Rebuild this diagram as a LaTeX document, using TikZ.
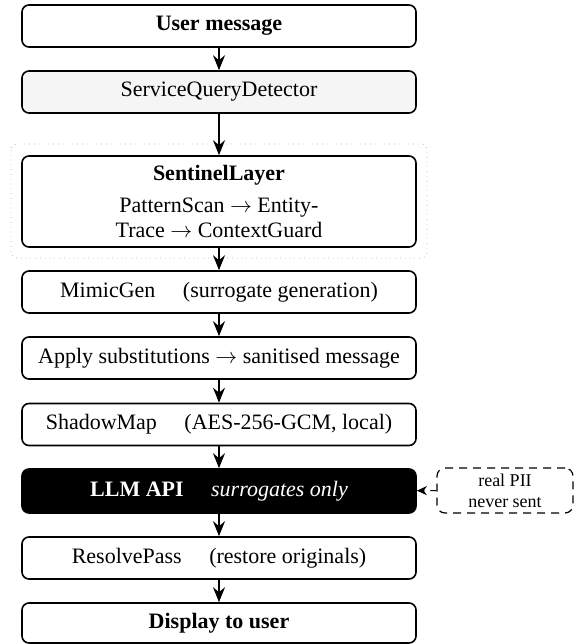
\documentclass[tikz,border=0pt]{standalone}
\usepackage{fontspec}
\setmainfont{Liberation Serif}
\usetikzlibrary{arrows.meta,shapes}

\begin{document}
\begin{tikzpicture}[x=.5pt, y=-.5pt]
		\tikzstyle{stage} = [draw, thick, rounded corners=3.5pt, minimum width=197pt, minimum height=21pt, align=center, inner sep=2pt, font=\fontsize{11}{12.5}\selectfont]
		\tikzstyle{note} = [draw, semithick, dash pattern=on 4pt off 3pt, rounded corners=4pt, minimum width=68pt, minimum height=22.5pt, align=center, inner sep=1pt, font=\fontsize{9}{10.5}\selectfont]
		\useasboundingbox (0, 0) rectangle (575, 644);
		% sentinel frame
		\draw [dotted, gray!60, rounded corners=3pt] (11, 144) rectangle (427, 258);
		\node[stage] (user) at (219, 26) {\textbf{User message}};
		\node[stage, fill=gray!8] (sqd) at (219, 92) {ServiceQueryDetector};
		\node[stage, minimum height=45.5pt] (sentinel) at (219, 201.5) {\textbf{SentinelLayer}\\[3.5pt]PatternScan $\rightarrow$ Entity-\\Trace $\rightarrow$ ContextGuard};
		\node[stage] (mimic) at (219, 292) {MimicGen \quad (surrogate generation)};
		\node[stage] (apply) at (219, 358) {Apply substitutions $\rightarrow$ sanitised message};
		\node[stage] (shadow) at (219, 424.5) {ShadowMap \quad (AES-256-GCM, local)};
		\node[stage, fill=black, text=white, minimum height=22pt] (llm) at (219, 491) {\textbf{LLM API} \quad \textit{surrogates only}};
		\node[stage] (resolve) at (219, 558) {ResolvePass \quad (restore originals)};
		\node[stage, minimum height=20pt] (display) at (219, 623) {\textbf{Display to user}};
		\node[note] (pii) at (505, 490.5) {real PII\\never sent};
		\foreach \from/\to in {user/sqd, sqd/sentinel, sentinel/mimic, mimic/apply, apply/shadow, shadow/llm, llm/resolve, resolve/display}
		\draw [->, thick, >={Stealth[length=7.5pt, width=6pt, inset=2.5pt]}] (\from) -- (\to);
		\draw [->, semithick, dashed, >={Stealth[length=5pt, width=4.5pt, inset=1.5pt]}] (pii) -- (llm);
	\end{tikzpicture}
\end{document}
